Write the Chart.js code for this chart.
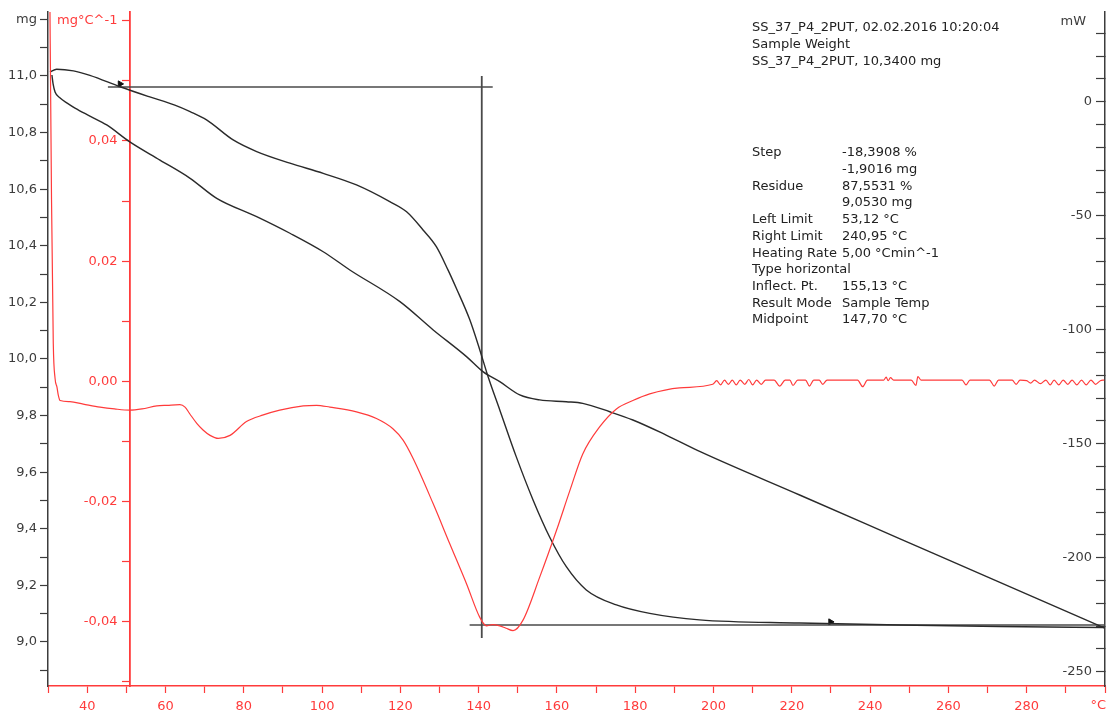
<!DOCTYPE html>
<html>
<head>
<meta charset="utf-8">
<title>SS_37_P4_2PUT - TGA step</title>
<script src="https://cdn.jsdelivr.net/npm/chart.js@4.4.1/dist/chart.umd.min.js"></script>
<style>
  html, body { margin: 0; padding: 0; background: #fff; }
  #wrap { width: 1111px; height: 718px; }
</style>
</head>
<body>
<div id="wrap"><canvas id="tga" width="1111" height="718"></canvas></div>
<script>
// ─── DATA ───

// TGA mass curve (mg, left axis)
const tgaTemp = [30.5, 32.2, 36.5, 40.7, 48.4, 56.0, 62.4, 66.3, 70.5, 77.3, 83.3, 91.8, 100.3, 108.8, 117.3, 121.6, 125.8, 129.2, 132.2, 134.3, 137.7, 140.3, 142.4, 145.4, 149.6, 153.9, 158.1, 162.4, 167.5, 175.2, 183.7, 196.4, 222.0, 247.5, 273.0, 299.8];
const tgaMass = [11.014, 11.024, 11.018, 11.002, 10.962, 10.926, 10.897, 10.874, 10.845, 10.774, 10.733, 10.692, 10.656, 10.615, 10.556, 10.520, 10.456, 10.397, 10.314, 10.250, 10.140, 10.032, 9.938, 9.820, 9.655, 9.502, 9.372, 9.266, 9.184, 9.131, 9.101, 9.078, 9.067, 9.060, 9.055, 9.051];

// DSC heat flow (mW, right axis)
const dscTemp = [31.0, 31.3, 31.8, 33.1, 34.9, 36.9, 40.7, 45.0, 50.8, 58.6, 66.3, 73.1, 83.3, 91.8, 100.3, 107.1, 119.9, 128.4, 136.9, 141.1, 145.4, 150.5, 155.6, 162.4, 166.6, 173.5, 179.4, 187.9, 196.6, 222.0, 247.5, 273.0, 299.8];
const dscPower = [11.7, 7.8, 4.3, 1.6, -0.6, -2.8, -6.3, -10.2, -17.5, -25.6, -33.6, -42.4, -50.4, -57.7, -65.8, -73.8, -87.7, -100.1, -111.8, -118.4, -122.8, -128.6, -130.8, -131.6, -132.3, -136.0, -139.6, -146.2, -153.5, -172.5, -191.6, -210.7, -230.8];

// DTG first derivative (mg/°C, red axis)
const dtgTemp = [30.4, 30.9, 31.35, 31.8, 32.3, 32.6, 33.1, 35.6, 39.0, 43.3, 47.0, 50.9, 54.0, 57.8, 60.5, 63.7, 65.0, 66.2, 68.0, 69.6, 71.4, 73.5, 76.5, 80.7, 85.0, 89.2, 95.2, 98.6, 102.0, 108.8, 113.9, 118.1, 120.7, 123.3, 128.4, 132.6, 136.9, 140.3, 142.0, 143.5, 145.4, 147.0, 148.8, 151.3, 155.6, 159.9, 163.3, 166.6, 170.9, 175.2, 179.4, 183.7, 191.3, 199.8,
  200.8, 201.8, 202.8, 203.8, 204.8, 205.8, 206.8, 208.0, 209.0, 210.0, 211.0, 212.2, 213.3, 215.5, 216.9, 218.3, 219.5, 220.3, 221.5, 223.5, 224.5, 225.6, 227.0, 227.9, 229.0, 236.8, 238.1, 239.3, 243.5, 244.1, 244.6, 245.2, 246.0, 250.5, 251.7, 252.2, 253.0, 263.5, 264.5, 265.5, 270.5, 271.7, 272.8, 276.3, 277.3, 278.3, 280.0, 281.0, 282.0, 283.5, 284.9, 286.0, 287.0, 288.2, 289.3, 290.5, 291.6, 292.8, 294.0, 295.2, 296.4, 297.6, 298.8, 299.8];
const dtgRate = [0.0700, 0.0302, 0.0063, 0.0005, -0.0010, -0.0022, -0.0032, -0.0034, -0.0038, -0.0043, -0.0046, -0.0048, -0.0046, -0.0041, -0.0040, -0.0039, -0.0043, -0.0054, -0.0070, -0.0081, -0.0090, -0.0095, -0.0090, -0.0067, -0.0056, -0.0048, -0.0041, -0.0040, -0.0043, -0.0051, -0.0062, -0.0079, -0.0098, -0.0129, -0.0204, -0.0270, -0.0337, -0.0393, -0.0407, -0.0405, -0.0407, -0.0411, -0.0415, -0.0398, -0.0326, -0.0248, -0.0182, -0.0121, -0.0076, -0.0046, -0.0032, -0.0021, -0.0011, -0.0005,
  0.0001, -0.0006, 0.0002, -0.0005, 0.0002, -0.0006, 0.0002, -0.0005, 0.0003, -0.0006, 0.0002, -0.0005, 0.0002, 0.0002, -0.0008, 0.0002, 0.0002, -0.0007, 0.0002, 0.0002, -0.0008, 0.0002, 0.0002, -0.0005, 0.0002, 0.0002, -0.0009, 0.0002, 0.0002, 0.0007, 0.0001, 0.0006, 0.0002, 0.0002, -0.0007, 0.0008, 0.0002, 0.0002, -0.0006, 0.0002, 0.0002, -0.0008, 0.0002, 0.0002, -0.0005, 0.0002, 0.0001, -0.0003, 0.0002, -0.0004, 0.0002, -0.0006, 0.0002, -0.0006, 0.0002, -0.0005, 0.0002, -0.0006, 0.0002, -0.0006, 0.0002, -0.0005, 0.0001, 0.0002];

// step evaluation construction lines (mg vs °C)
const stepTopTemp = [45.3, 143.6];
const stepTopMass = [10.961, 10.961];
const stepLowTemp = [137.7, 300];
const stepLowMass = [9.060, 9.060];
const stepMidTemp = [140.8, 140.8];
const stepMidMass = [11.0, 9.014];
const limitTemp = [48.4, 229.9];
const limitMass = [10.972, 9.071];

// header + result table
const headerLines = ['SS_37_P4_2PUT, 02.02.2016 10:20:04', 'Sample Weight', 'SS_37_P4_2PUT, 10,3400 mg'];
const resultLabels = ['Step', '', 'Residue', '', 'Left Limit', 'Right Limit', 'Heating Rate', 'Type horizontal', 'Inflect. Pt.', 'Result Mode', 'Midpoint'];
const resultValues = ['-18,3908 %', '-1,9016 mg', '87,5531 %', '9,0530 mg', '53,12 °C', '240,95 °C', '5,00 °Cmin^-1', '', '155,13 °C', 'Sample Temp', '147,70 °C'];

// ─── STYLE ───
const RED = '#ff3b3b';
const INK = '#2a2a2a';
const AXIS = '#3c3c3c';
const FONT = '"DejaVu Sans", Tahoma, sans-serif';
const GAP = '   '; // keeps the red labels clear of their tick marks

const pts = (xs, ys) => xs.map((x, i) => ({ x: x, y: ys[i] }));
const comma = (v, d) => v.toFixed(d).replace('.', ',');
// y axes must not push the plot area down for their label overhang
const noOverhang = s => { s.paddingTop = 0; s.paddingBottom = 0; };

// ─── TEXT OVERLAY ───
const textBlock = {
    id: 'textBlock',
    afterDraw(chart) {
        const ctx = chart.ctx;
        ctx.save();
        ctx.font = '13px ' + FONT;
        ctx.textBaseline = 'middle';
        ctx.textAlign = 'left';
        ctx.fillStyle = '#222';
        headerLines.forEach((t, i) => ctx.fillText(t, 752, 28 + i * 16.7));
        resultLabels.forEach((t, i) => ctx.fillText(t, 752, 153 + i * 16.7));
        resultValues.forEach((t, i) => ctx.fillText(t, 842, 153 + i * 16.7));

        ctx.textAlign = 'right';
        ctx.fillStyle = AXIS;
        ctx.fillText('mW', 1086, 22);
        ctx.fillStyle = RED;
        ctx.fillText('°C', 1106, 706);
        ctx.restore();
    }
};

// ─── CHART ───
const ctx = document.getElementById('tga').getContext('2d');

new Chart(ctx, {
    type: 'line',
    data: {
        datasets: [{
            label: 'DTG',
            data: pts(dtgTemp, dtgRate),
            yAxisID: 'dtg',
            borderColor: RED,
            borderWidth: 1.2,
            cubicInterpolationMode: 'monotone'
        }, {
            label: 'TGA',
            data: pts(tgaTemp, tgaMass),
            yAxisID: 'mg',
            borderColor: INK,
            borderWidth: 1.4,
            cubicInterpolationMode: 'monotone'
        }, {
            label: 'DSC',
            data: pts(dscTemp, dscPower),
            yAxisID: 'mw',
            borderColor: INK,
            borderWidth: 1.4,
            cubicInterpolationMode: 'monotone'
        }, {
            label: 'step top',
            data: pts(stepTopTemp, stepTopMass),
            yAxisID: 'mg',
            borderColor: '#4a4a4a',
            borderWidth: 1.6
        }, {
            label: 'step low',
            data: pts(stepLowTemp, stepLowMass),
            yAxisID: 'mg',
            borderColor: '#4a4a4a',
            borderWidth: 1.6
        }, {
            label: 'midpoint',
            data: pts(stepMidTemp, stepMidMass),
            yAxisID: 'mg',
            borderColor: '#4a4a4a',
            borderWidth: 1.8
        }, {
            label: 'limits',
            data: pts(limitTemp, limitMass),
            yAxisID: 'mg',
            showLine: false,
            pointRadius: 3.5,
            pointStyle: 'triangle',
            rotation: 90,
            pointBackgroundColor: '#111',
            pointBorderColor: '#111'
        }]
    },
    options: {
        responsive: false,
        animation: false,
        layout: { padding: { top: 12 } },
        elements: { point: { radius: 0 } },
        plugins: {
            legend: { display: false },
            tooltip: { enabled: false }
        },
        scales: {
            x: {
                type: 'linear',
                position: 'bottom',
                min: 30,
                max: 300,
                border: { color: RED, width: 1.5 },
                grid: { drawOnChartArea: false, color: RED, tickLength: 7, tickWidth: 1.2 },
                ticks: {
                    stepSize: 10,
                    autoSkip: false,
                    maxRotation: 0,
                    padding: 6,
                    color: RED,
                    font: { family: FONT, size: 13 },
                    callback: v => (v % 20 === 0 && v < 300) ? String(v) : ''
                },
                afterFit: s => { s.height = 32; s.paddingLeft = 0; s.paddingRight = 0; }
            },
            mg: {
                type: 'linear',
                position: 'left',
                min: 8.8445,
                max: 11.2261,
                border: { color: AXIS, width: 1.5 },
                grid: { drawOnChartArea: false, color: AXIS, tickLength: 8, tickWidth: 1.2 },
                ticks: {
                    stepSize: 0.1,
                    includeBounds: false,
                    autoSkip: false,
                    padding: 3,
                    color: AXIS,
                    font: { family: FONT, size: 13 },
                    callback: v => {
                        const k = Math.round(v * 10);
                        if (k % 2) return '';
                        return k === 112 ? 'mg' : comma(k / 10, 1);
                    }
                },
                afterFit: s => { s.width = 48; noOverhang(s); }
            },
            dtg: {
                type: 'linear',
                position: { x: 50.9 },
                min: -0.05072,
                max: 0.06147,
                border: { color: RED, width: 1.8 },
                grid: { drawOnChartArea: false, color: RED, tickLength: 7, tickWidth: 1.2 },
                ticks: {
                    stepSize: 0.01,
                    includeBounds: false,
                    autoSkip: false,
                    color: RED,
                    font: { family: FONT, size: 13 },
                    callback: v => {
                        const k = Math.round(v * 100);
                        if (k % 2) return '';
                        return (k === 6 ? 'mg°C^-1' : comma(k / 100, 2)) + GAP;
                    }
                },
                afterFit: noOverhang
            },
            mw: {
                type: 'linear',
                position: 'right',
                min: -256.27,
                max: 39.34,
                border: { color: AXIS, width: 1.5 },
                grid: { drawOnChartArea: false, color: AXIS, tickLength: -9, tickWidth: 1.2 },
                ticks: {
                    stepSize: 10,
                    includeBounds: false,
                    autoSkip: false,
                    mirror: true,
                    padding: -13,
                    color: AXIS,
                    font: { family: FONT, size: 13 },
                    callback: v => {
                        const k = Math.round(v);
                        return k % 50 ? '' : String(k);
                    }
                },
                afterFit: s => { s.width = 6; noOverhang(s); }
            }
        }
    },
    plugins: [textBlock]
});
</script>
</body>
</html>
